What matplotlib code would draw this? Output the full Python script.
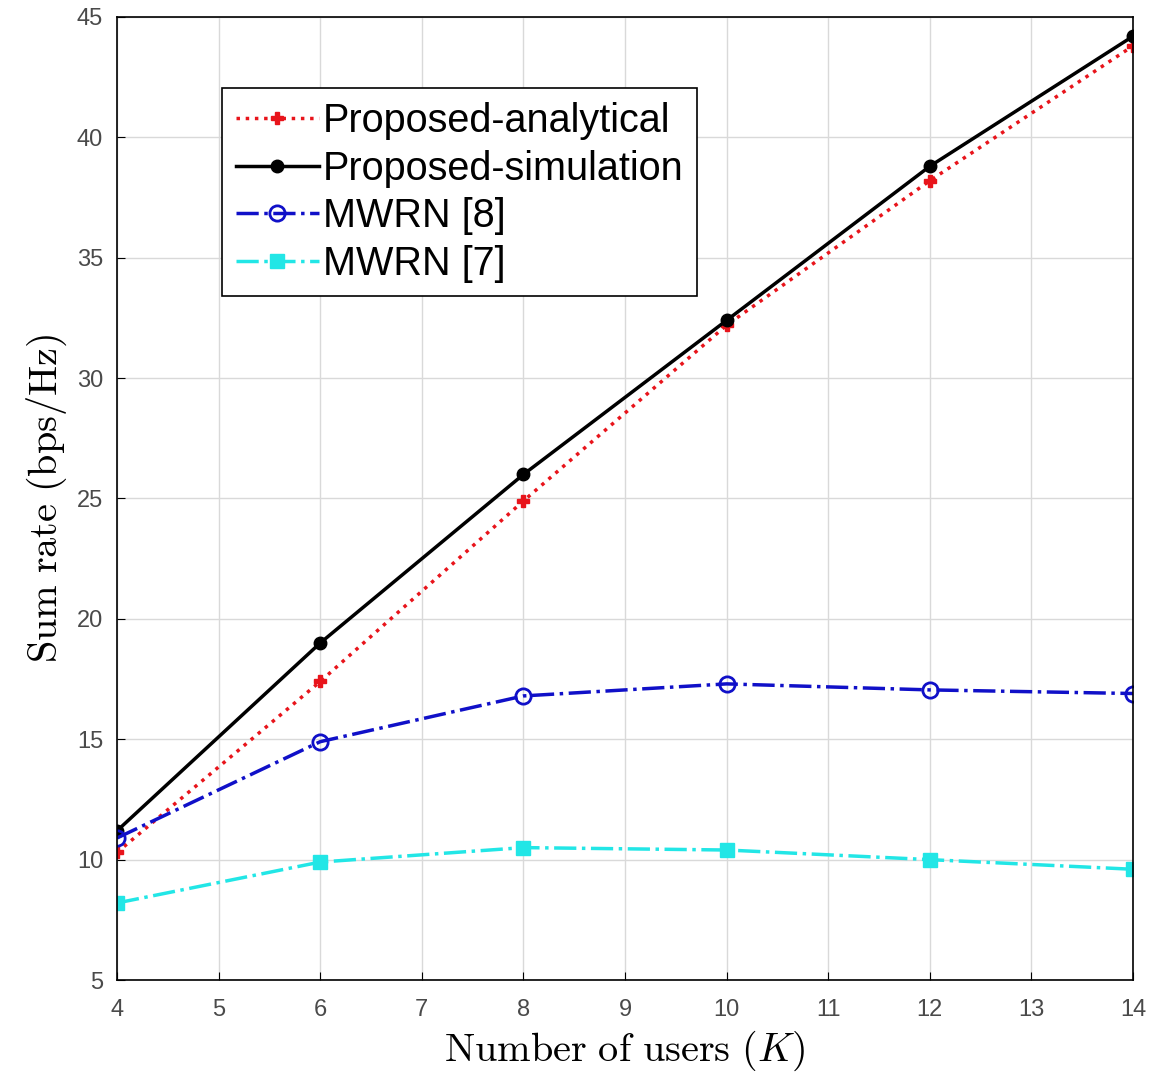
import matplotlib
matplotlib.use("Agg")
import matplotlib.pyplot as plt

users = [4, 6, 8, 10, 12, 14]
analytical = [10.3, 17.4, 24.9, 32.2, 38.2, 43.8]
simulation = [11.2, 19.0, 26.0, 32.4, 38.8, 44.2]
mwrn8 = [10.9, 14.9, 16.8, 17.3, 17.05, 16.9]
mwrn7 = [8.2, 9.9, 10.5, 10.4, 10.0, 9.6]

plt.rcParams["mathtext.fontset"] = "cm"
plt.rcParams["font.family"] = ["Liberation Sans", "DejaVu Sans"]

fig = plt.figure(figsize=(11.51, 10.74), dpi=100)
ax = fig.add_axes([0.1017, 0.0875, 0.8827, 0.8967])

ax.plot(users, analytical, color="#e8141b", linestyle=":", linewidth=2.5,
        marker="P", markersize=9, label="Proposed-analytical")
ax.plot(users, simulation, color="black", linestyle="-", linewidth=2.5,
        marker="o", markersize=9, label="Proposed-simulation")
ax.plot(users, mwrn8, color="#1010c8", linestyle="-.", linewidth=2.5,
        marker="o", markersize=11, markerfacecolor="none", markeredgewidth=2,
        label="MWRN [8]")
ax.plot(users, mwrn7, color="#22e6e6", linestyle="-.", linewidth=2.5,
        marker="s", markersize=10, label="MWRN [7]")

ax.set_xlim(4, 14)
ax.set_ylim(5, 45)
ax.set_xticks(range(4, 15))
ax.set_yticks(range(5, 46, 5))
ax.grid(True, color="#d9d9d9", linewidth=1)
ax.tick_params(direction="in", labelsize=17, labelcolor="#4a4a4a", length=6)
ax.tick_params(axis="x", pad=14)
ax.tick_params(axis="y", pad=10)
for s in ax.spines.values():
    s.set_linewidth(1.2)

ax.set_xlabel(r"$\mathrm{Number\ of\ users\ }(K)$", fontsize=29, labelpad=5)
ax.set_ylabel(r"$\mathrm{Sum\ rate\ (bps/Hz)}$", fontsize=29, labelpad=6)

leg = ax.legend(loc="upper left", bbox_to_anchor=(0.103, 0.926), fontsize=28.5,
                handlelength=2.1, handletextpad=0.1, borderpad=0.35,
                labelspacing=0.24, fancybox=False, framealpha=1,
                edgecolor="black", borderaxespad=0)
leg.get_frame().set_linewidth(1.2)

fig.savefig("out.png", dpi=100)
